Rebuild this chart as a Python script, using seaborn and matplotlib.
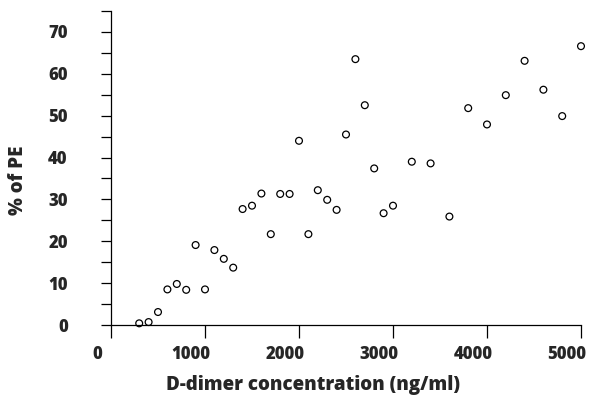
import matplotlib
matplotlib.use("Agg")
import matplotlib.pyplot as plt
import matplotlib.transforms as mtrans
import seaborn as sns
import pandas as pd

# Data
d_dimer = [300, 400, 500, 600, 700, 800, 900, 1000, 1100, 1200, 1300, 1400,
           1500, 1600, 1700, 1800, 1900, 2000, 2100, 2200, 2300, 2400, 2500,
           2600, 2700, 2800, 2900, 3000, 3200, 3400, 3600, 3800, 4000, 4200,
           4400, 4600, 4800, 5000]
pct_pe = [0.4, 0.7, 3.1, 8.5, 9.8, 8.4, 19.1, 8.5, 17.9, 15.8, 13.7, 27.7,
          28.5, 31.4, 21.7, 31.3, 31.3, 44.0, 21.7, 32.2, 29.9, 27.5, 45.5,
          63.5, 52.5, 37.4, 26.7, 28.5, 39.0, 38.6, 25.9, 51.8, 47.9, 54.9,
          63.1, 56.2, 49.9, 66.6]
x_ticks = [0, 1000, 2000, 3000, 4000, 5000]
y_major = [0, 10, 20, 30, 40, 50, 60, 70]
y_minor = [5, 15, 25, 35, 45, 55, 65, 75]
x_title = "D-dimer concentration (ng/ml)"
y_title = "% of PE"

df = pd.DataFrame({"x": d_dimer, "y": pct_pe})

sns.set_style("ticks")
plt.rcParams["font.family"] = ["Open Sans", "DejaVu Sans"]
plt.rcParams["font.weight"] = "bold"

fig = plt.figure(figsize=(5.89, 4.01), dpi=100)
ax = fig.add_axes([111/589, 76/401, 470/589, 314/401])

sns.scatterplot(data=df, x="x", y="y", ax=ax, marker="o", s=24,
                facecolor="none", edgecolor="black", linewidth=0.9,
                clip_on=False, zorder=3)

ax.set_xlim(0, 5000)
ax.set_ylim(0, 75)
sns.despine(ax=ax)
for sp in ("left", "bottom"):
    ax.spines[sp].set_linewidth(0.9)
    ax.spines[sp].set_color("black")

ax.set_xticks(x_ticks)
ax.set_xticklabels([str(v) for v in x_ticks])
ax.set_yticks(y_major)
ax.set_yticklabels([str(v) for v in y_major])
ax.set_yticks(y_minor, minor=True)

ax.tick_params(axis="x", direction="out", length=9.4, width=0.9, pad=6,
               labelsize=12, color="black")
ax.tick_params(axis="y", which="both", direction="out", length=7.2,
               width=0.9, pad=24, labelsize=12, color="black")

for lab in ax.get_xticklabels():
    lab.set_fontweight("heavy")
    lab.set_transform(lab.get_transform() +
                      mtrans.ScaledTranslation(-14/100, 0, fig.dpi_scale_trans))
for lab in ax.get_yticklabels():
    lab.set_fontweight("heavy")

ax.set_xlabel(x_title, fontsize=13.5, fontweight="heavy")
ax.set_ylabel(y_title, fontsize=13.5, fontweight="heavy")
ax.yaxis.set_label_coords(-93/470, (325 - 180) / 314)
ax.xaxis.set_label_coords((313 - 111) / 470, -(385 - 325) / 314)
ax.xaxis.label.set_va("center")
ax.yaxis.label.set_va("center")

fig.savefig("out.png", dpi=100)
